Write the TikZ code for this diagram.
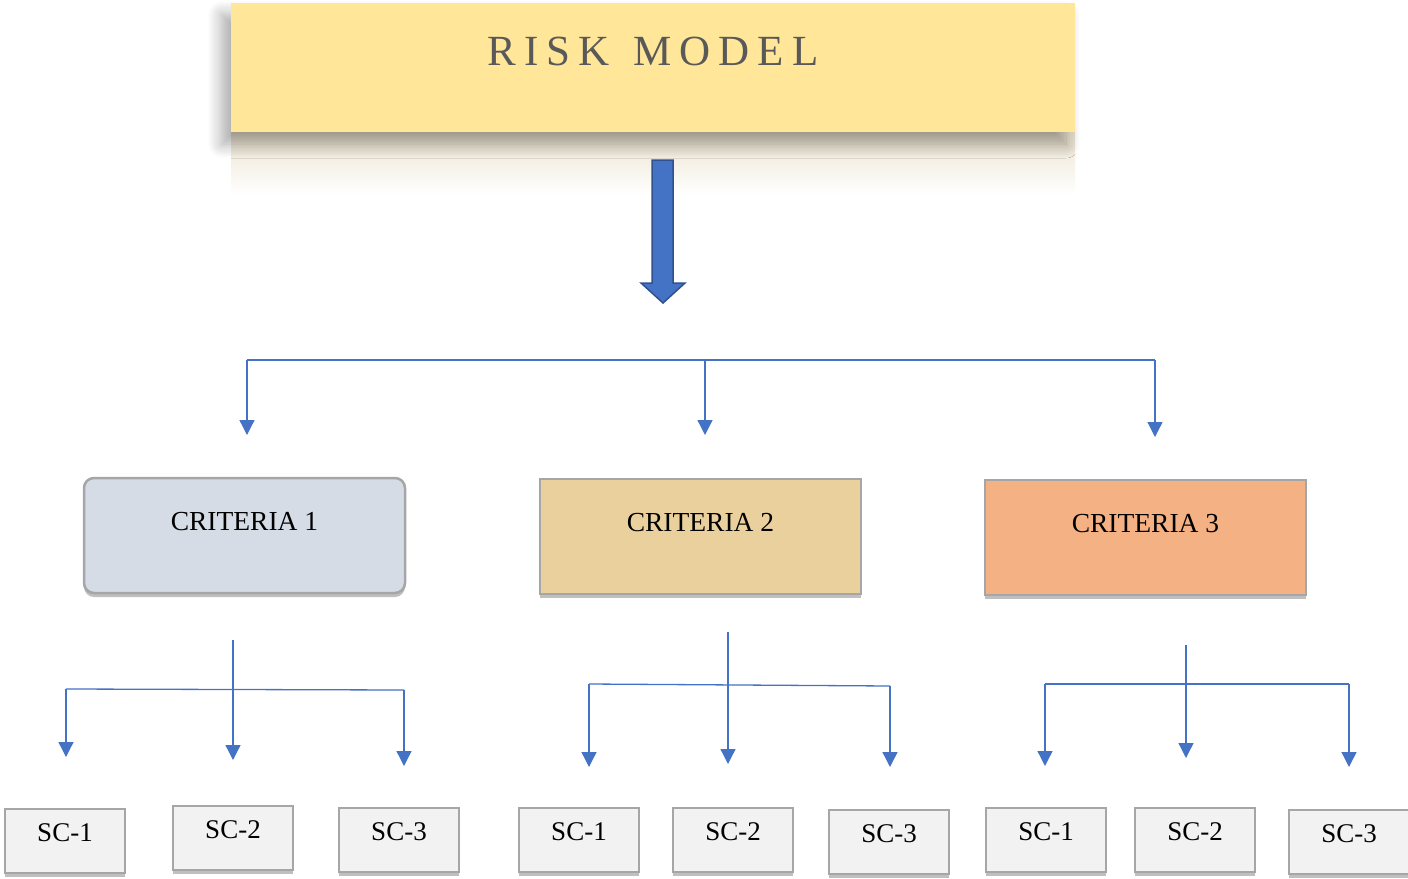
\documentclass[tikz,border=0pt]{standalone}
\usepackage{fontspec}
\setmainfont{Liberation Serif}
\usetikzlibrary{arrows.meta,shadows,shadows.blur}

\definecolor{riskfill}{RGB}{255,230,153}
\definecolor{riskgray}{RGB}{89,89,89}
\definecolor{conblue}{RGB}{68,114,196}
\definecolor{arrowedge}{RGB}{47,82,143}
\definecolor{boxedge}{RGB}{166,166,166}
\definecolor{cone}{RGB}{214,220,229}
\definecolor{ctwo}{RGB}{233,208,157}
\definecolor{cthree}{RGB}{244,177,131}
\definecolor{scfill}{RGB}{242,242,242}
\definecolor{reflect}{RGB}{236,228,208}

\begin{document}
\begin{tikzpicture}[x=1pt,y=-1pt,
  riskbox/.style={fill=riskfill, minimum width=844pt, minimum height=129pt, inner sep=0pt, outer sep=0pt,
    text height=62pt, text depth=67pt, anchor=north west, text=riskgray,
    font=\fontsize{43}{46}\selectfont,
    blur shadow={shadow xshift=-9pt, shadow yshift=-12pt, shadow blur radius=14pt, shadow blur steps=14, shadow opacity=35}},
  critbox/.style={draw=boxedge, line width=2.5pt, minimum width=321pt, minimum height=115pt,
    inner sep=0pt, outer sep=0pt, text height=52pt, text depth=63pt, anchor=north west,
    font=\fontsize{27.5}{30}\selectfont,
    drop shadow={shadow xshift=0pt, shadow yshift=-4pt, fill=black, opacity=0.25}},
  scbox/.style={draw=boxedge, line width=2.5pt, fill=scfill, minimum width=120pt, minimum height=64pt,
    inner sep=0pt, outer sep=0pt, text height=32pt, text depth=32pt, anchor=north west,
    font=\fontsize{27}{30}\selectfont,
    drop shadow={shadow xshift=0pt, shadow yshift=-4pt, fill=black, opacity=0.25}},
  conn/.style={draw=conblue, line width=1.3pt},
  tip/.style={-{Triangle[width=15pt,length=15pt]}}
]
\useasboundingbox (0,0) rectangle (1408,878);

% reflection below title box
\shade[top color=reflect, bottom color=white] (231,132) rectangle (1075,195);

% title
\node[riskbox] (risk) at (231,3) {R\kern8pt I\kern8pt S\kern8pt K\kern24pt M\kern8pt O\kern8pt D\kern8pt E\kern8pt L};

% block arrow
\filldraw[fill=conblue, draw=arrowedge, line width=1.5pt]
  (652,160) -- (673,160) -- (673,283) -- (685,283) -- (663,303) -- (641,283) -- (652,283) -- cycle;

% criteria boxes
\node[critbox, fill=cone, rounded corners=10pt] (c1) at (84,478) {CRITERIA 1};
\node[critbox, fill=ctwo] (c2) at (540,479) {CRITERIA 2};
\node[critbox, fill=cthree] (c3) at (985,480) {CRITERIA 3};

% top connector
\coordinate (tl) at (247,360);
\coordinate (tm) at (705,360);
\coordinate (tr) at (1155,360);
\coordinate (te1) at (247,435);
\coordinate (te2) at (705,435);
\coordinate (te3) at (1155,437);
\draw[conn] (tl) -- (tr);
\draw[conn,tip] (tl) -- (te1);
\draw[conn,tip] (tm) -- (te2);
\draw[conn,tip] (tr) -- (te3);

% group 1
\coordinate (g1t) at (233,640);
\coordinate (g1l) at (66,689);
\coordinate (g1r) at (404,690);
\coordinate (g1e1) at (66,757);
\coordinate (g1e2) at (233,760);
\coordinate (g1e3) at (404,766);
\draw[conn] (g1l) -- (g1r);
\draw[conn,tip] (g1l) -- (g1e1);
\draw[conn,tip] (g1t) -- (g1e2);
\draw[conn,tip] (g1r) -- (g1e3);

% group 2
\coordinate (g2t) at (728,632);
\coordinate (g2l) at (589,684);
\coordinate (g2r) at (890,686);
\coordinate (g2e1) at (589,767);
\coordinate (g2e2) at (728,764);
\coordinate (g2e3) at (890,767);
\draw[conn] (g2l) -- (g2r);
\draw[conn,tip] (g2l) -- (g2e1);
\draw[conn,tip] (g2t) -- (g2e2);
\draw[conn,tip] (g2r) -- (g2e3);

% group 3
\coordinate (g3t) at (1186,645);
\coordinate (g3l) at (1045,684);
\coordinate (g3r) at (1349,684);
\coordinate (g3e1) at (1045,766);
\coordinate (g3e2) at (1186,758);
\coordinate (g3e3) at (1349,767);
\draw[conn] (g3l) -- (g3r);
\draw[conn,tip] (g3l) -- (g3e1);
\draw[conn,tip] (g3t) -- (g3e2);
\draw[conn,tip] (g3r) -- (g3e3);

% sub-criteria boxes
\node[scbox] (s11) at (5,809) {SC-1};
\node[scbox] (s12) at (173,806) {SC-2};
\node[scbox] (s13) at (339,808) {SC-3};
\node[scbox] (s21) at (519,808) {SC-1};
\node[scbox] (s22) at (673,808) {SC-2};
\node[scbox] (s23) at (829,810) {SC-3};
\node[scbox] (s31) at (986,808) {SC-1};
\node[scbox] (s32) at (1135,808) {SC-2};
\node[scbox] (s33) at (1289,810) {SC-3};
\end{tikzpicture}
\end{document}
